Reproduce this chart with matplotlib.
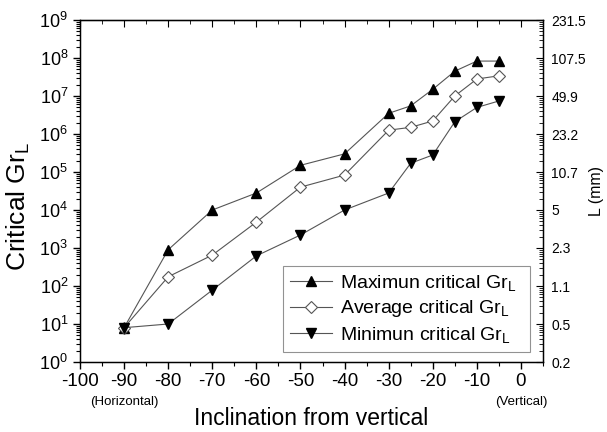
import numpy as np
import matplotlib
matplotlib.use("Agg")
import matplotlib.pyplot as plt
from matplotlib.ticker import LogLocator, MultipleLocator, NullFormatter, FixedLocator

plt.rcParams['font.family'] = ['Liberation Sans', 'DejaVu Sans']
plt.rcParams['mathtext.fontset'] = 'custom'
plt.rcParams['mathtext.rm'] = 'Liberation Sans'
plt.rcParams['mathtext.it'] = 'Liberation Sans'
plt.rcParams['axes.unicode_minus'] = False

# data
inclination = [-90, -80, -70, -60, -50, -40, -30, -25, -20, -15, -10, -5]
gr_max = [8, 900, 1.0e4, 2.8e4, 1.5e5, 3.0e5, 3.5e6, 5.5e6, 1.5e7, 4.5e7, 8.3e7, 8.3e7]
gr_avg = [8, 175, 650, 4.8e3, 4.0e4, 8.3e4, 1.26e6, 1.5e6, 2.2e6, 1.0e7, 2.8e7, 3.4e7]
gr_min = [8, 10, 78, 620, 2.2e3, 1.0e4, 2.8e4, 1.7e5, 2.8e5, 2.1e6, 5.0e6, 7.4e6]

x_ticks = [-100, -90, -80, -70, -60, -50, -40, -30, -20, -10, 0]
right_labels = ['0.2', '0.5', '1.1', '2.3', '5', '10.7', '23.2', '49.9', '107.5', '231.5']

fig = plt.figure(figsize=(6.07, 4.32), dpi=100)
ax = fig.add_axes([80 / 607, 1 - 362 / 432, 463 / 607, 342 / 432])

lc = '#555555'
ax.plot(inclination, gr_max, '-', color=lc, lw=0.8, marker='^', ms=7,
        mfc='black', mec='black', label='Maximun critical Gr$_\\mathregular{L}$')
ax.plot(inclination, gr_avg, '-', color=lc, lw=0.8, marker='D', ms=6,
        mfc='white', mec='#555555', mew=0.8, label='Average critical Gr$_\\mathregular{L}$')
ax.plot(inclination, gr_min, '-', color=lc, lw=0.8, marker='v', ms=7,
        mfc='black', mec='black', label='Minimun critical Gr$_\\mathregular{L}$')

ax.set_yscale('log')
ax.set_xlim(-100, 5)
ax.set_ylim(1, 1e9)
ax.xaxis.set_major_locator(FixedLocator(x_ticks))
ax.xaxis.set_minor_locator(MultipleLocator(5))
ax.yaxis.set_major_locator(LogLocator(base=10, numticks=20))
ax.yaxis.set_minor_locator(LogLocator(base=10, subs=np.arange(2, 10), numticks=20))
ax.yaxis.set_minor_formatter(NullFormatter())
ax.tick_params(axis='x', which='both', direction='out', labelsize=13.5, pad=3)
ax.tick_params(axis='y', which='both', direction='out', labelsize=13)
ax.tick_params(which='major', length=5, width=1)
ax.tick_params(which='minor', length=3, width=0.8)
for s in ax.spines.values():
    s.set_linewidth(1.0)

# top ticks point inward
secx = ax.secondary_xaxis('top')
secx.xaxis.set_major_locator(FixedLocator(x_ticks))
secx.xaxis.set_minor_locator(MultipleLocator(5))
secx.tick_params(which='both', direction='in', labeltop=False)
secx.tick_params(which='major', length=5)
secx.tick_params(which='minor', length=3)

ax.set_ylabel('Critical Gr$_\\mathregular{L}$', fontsize=19)
ax.yaxis.set_label_coords(-0.104, 0.455)
ax.set_xlabel('Inclination from vertical', fontsize=16.5, labelpad=12)
ax.text(-90, -0.098, '(Horizontal)', transform=ax.get_xaxis_transform(),
        ha='center', va='top', fontsize=9.5)
ax.text(0, -0.098, '(Vertical)', transform=ax.get_xaxis_transform(),
        ha='center', va='top', fontsize=9.5)

# right axis: L (mm)
ax2 = ax.twinx()
ax2.set_yscale('log')
ax2.set_ylim(1, 1e9)
ax2.yaxis.set_major_locator(FixedLocator([10.0 ** i for i in range(10)]))
ax2.set_yticklabels(right_labels)
ax2.yaxis.set_minor_locator(LogLocator(base=10, subs=np.arange(2, 10), numticks=20))
ax2.yaxis.set_minor_formatter(NullFormatter())
ax2.tick_params(which='both', direction='in', labelsize=10, pad=6)
ax2.tick_params(which='major', length=5)
ax2.tick_params(which='minor', length=3)
ax2.set_ylabel('L (mm)', fontsize=11.5, labelpad=2)

leg = ax.legend(loc='lower left', bbox_to_anchor=(0.438, 0.029, 0.534, 0.29),
                mode='expand', fontsize=14, frameon=True, fancybox=False,
                edgecolor='#777777', handlelength=2.2, handletextpad=0.4,
                borderaxespad=0, borderpad=0.35, labelspacing=0.3)
leg.get_frame().set_linewidth(0.8)

fig.savefig('out.png', dpi=100)
